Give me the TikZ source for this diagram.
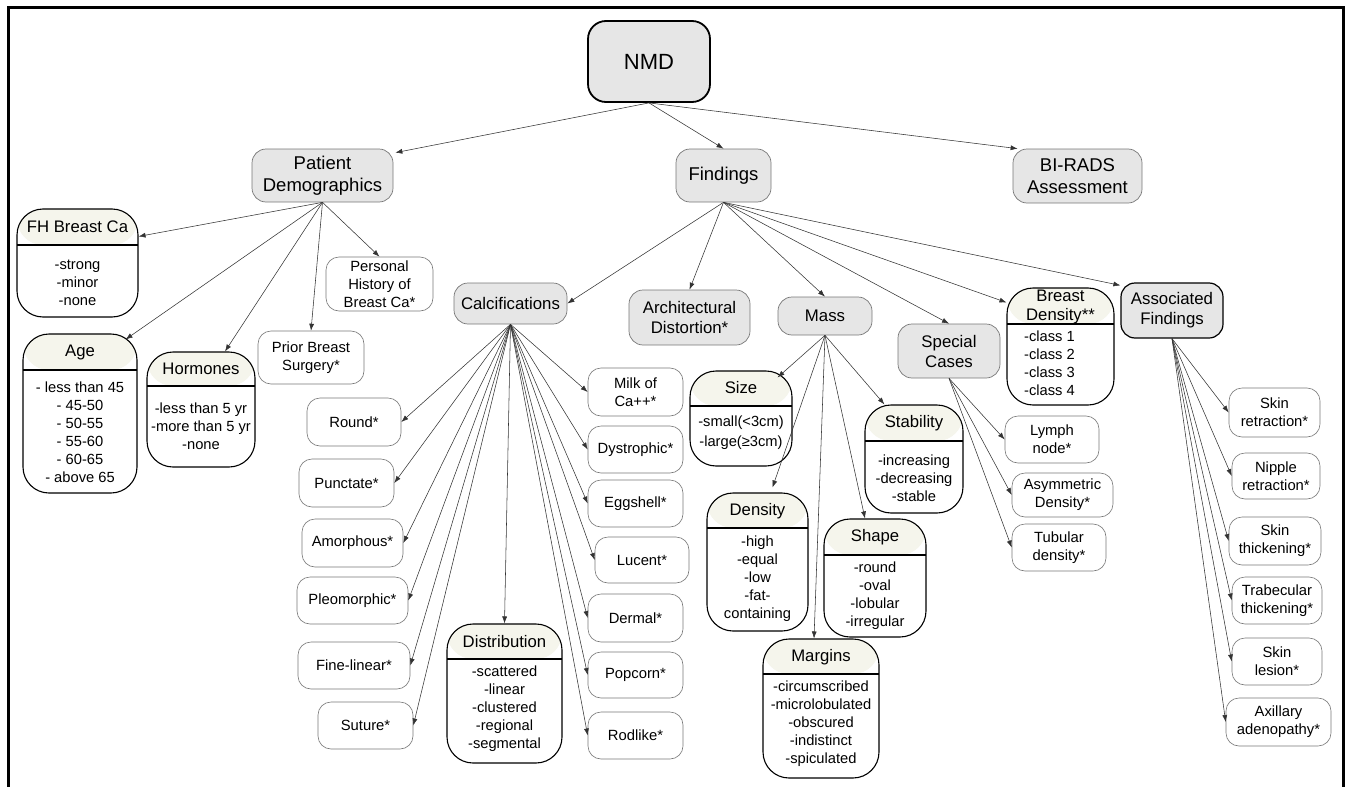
\documentclass[tikz,border=0pt]{standalone}
\usepackage{fontspec}
\setmainfont{Liberation Sans}
\usetikzlibrary{arrows.meta,calc}
\definecolor{nodegray}{HTML}{E6E6E6}
\definecolor{hdrfill}{HTML}{F5F5EC}
\definecolor{edgegray}{HTML}{777777}
\definecolor{linegray}{HTML}{333333}
\newcommand{\fsz}[2]{\fontsize{#1}{#2}\selectfont}
\tikzset{
 basebox/.style={rectangle, inner sep=0pt, align=center},
 topnode/.style={basebox, draw=black, line width=1.8pt, fill=nodegray, rounded corners=18pt, font=\fsz{22}{26}},
 bignode/.style={basebox, draw=edgegray, line width=0.7pt, fill=nodegray, rounded corners=14pt, font=\fsz{18.5}{21.5}},
 catnode/.style={basebox, draw=edgegray, line width=0.7pt, fill=nodegray, rounded corners=14pt, font=\fsz{16.8}{20}},
 leaf/.style={basebox, draw=edgegray, line width=0.6pt, fill=white, rounded corners=13pt, font=\fsz{14.8}{18}},
 hbox/.style={basebox, draw=black, line width=1.1pt, fill=white, rounded corners=26pt, path picture={
   \fill[hdrfill] (path picture bounding box.north west) rectangle ($(path picture bounding box.north east)+(0,#1)$);
   \draw[line width=1.1pt] ($(path picture bounding box.north west)+(0,#1)$) -- ($(path picture bounding box.north east)+(0,#1)$);}},
 htitle/.style={inner sep=0pt, align=center, font=\fsz{16.7}{19}},
 hitems/.style={inner sep=0pt, align=center, font=\fsz{14.7}{18}},
 conn/.style={draw=linegray, line width=0.55pt, -{Latex[length=7pt,width=5pt]}},
}
\begin{document}
\begin{tikzpicture}[x=1pt,y=-1pt]
\useasboundingbox (0,0) rectangle (1350,787);
\draw[line width=3pt] (8,787) -- (8,7) -- (1343.5,7) -- (1343.5,787);

% top level
\node[topnode, minimum width=122pt, minimum height=81pt] (nmd) at (649,61.5) {NMD};
\node[bignode, minimum width=141pt, minimum height=53pt] (pd) at (322.5,175.5) {Patient\\Demographics};
\node[bignode, minimum width=95pt, minimum height=53pt] (fnd) at (723.5,175.5) {Findings};
\node[bignode, minimum width=129pt, minimum height=54pt] (bir) at (1077.5,176) {BI-RADS\\Assessment};

% demographics children
\node[hbox=36, minimum width=121pt, minimum height=108pt] (fh) at (77.5,263) {};
\node[htitle] (fh-t) at (77.5,227) {FH Breast Ca};
\node[hitems] (fh-b) at (77.5,283) {-strong\\-minor\\-none};

\node[hbox=36, minimum width=114pt, minimum height=159pt] (age) at (80,413.5) {};
\node[htitle] (age-t) at (80,352) {Age};
\node[hitems] (age-b) at (80,432) {- less than 45\\- 45-50\\- 50-55\\- 55-60\\- 60-65\\- above 65};

\node[hbox=34, minimum width=108pt, minimum height=115pt] (hor) at (201,409.5) {};
\node[htitle] (hor-t) at (201,369) {Hormones};
\node[hitems] (hor-b) at (201,426) {-less than 5 yr\\-more than 5 yr\\-none};

\node[leaf, minimum width=106pt, minimum height=53pt] (pbs) at (311,357.5) {Prior Breast\\Surgery*};
\node[leaf, minimum width=107pt, minimum height=54pt] (phb) at (379.5,284) {Personal\\History of\\Breast Ca*};

% findings children
\node[catnode, minimum width=113pt, minimum height=41pt] (calc) at (510.5,303.5) {Calcifications};
\node[catnode, minimum width=121pt, minimum height=55pt] (arch) at (689.5,317.5) {Architectural\\Distortion*};
\node[catnode, minimum width=94pt, minimum height=38pt] (mass) at (825,316) {Mass};
\node[catnode, minimum width=102pt, minimum height=54pt] (spc) at (949,351) {Special\\Cases};
\node[catnode, draw=black, line width=1.2pt, minimum width=102pt, minimum height=55pt] (af) at (1172,310.5) {Associated\\Findings};

\node[hbox=36, minimum width=107pt, minimum height=117pt] (bd) at (1060.5,346.5) {};
\node[htitle] (bd-t) at (1060.5,306.5) {Breast\\Density**};
\node[hitems, align=left, anchor=west] (bd-b) at (1024,363.5) {-class 1\\-class 2\\-class 3\\-class 4};

% calcification children
\node[leaf, minimum width=94pt, minimum height=48pt] (round) at (354,422) {Round*};
\node[leaf, minimum width=95pt, minimum height=48pt] (punc) at (346.5,483) {Punctate*};
\node[leaf, minimum width=101pt, minimum height=48pt] (amor) at (352.5,543) {Amorphous*};
\node[leaf, minimum width=111pt, minimum height=47pt] (pleo) at (352.5,600.5) {Pleomorphic*};
\node[leaf, minimum width=112pt, minimum height=47pt] (fine) at (354,665.5) {Fine-linear*};
\node[leaf, minimum width=95pt, minimum height=47pt] (sut) at (365.5,725.5) {Suture*};

\node[hbox=35, minimum width=115pt, minimum height=139pt] (dist) at (504.5,693.5) {};
\node[htitle] (dist-t) at (504.5,642) {Distribution};
\node[hitems] (dist-b) at (504.5,708.5) {-scattered\\-linear\\-clustered\\-regional\\-segmental};

\node[leaf, minimum width=95pt, minimum height=48pt] (milk) at (635.5,392) {Milk of\\Ca++*};
\node[leaf, minimum width=95pt, minimum height=47pt] (dys) at (635.5,449.5) {Dystrophic*};
\node[leaf, minimum width=95pt, minimum height=47pt] (egg) at (635.5,503.5) {Eggshell*};
\node[leaf, minimum width=94pt, minimum height=46pt] (luc) at (642,560) {Lucent*};
\node[leaf, minimum width=95pt, minimum height=48pt] (der) at (635.5,618) {Dermal*};
\node[leaf, minimum width=95pt, minimum height=46pt] (pop) at (635.5,675) {Popcorn*};
\node[leaf, minimum width=95pt, minimum height=47pt] (rod) at (635.5,735.5) {Rodlike*};

% mass children
\node[hbox=35, minimum width=102pt, minimum height=95pt] (size) at (741,418.5) {};
\node[htitle] (size-t) at (741,388) {Size};
\node[hitems, font=\fsz{14.7}{20}] (size-b) at (741,433) {-small(<3cm)\\-large(≥3cm)};

\node[hbox=36, minimum width=98pt, minimum height=108pt] (stab) at (914,459) {};
\node[htitle] (stab-t) at (914,423) {Stability};
\node[hitems] (stab-b) at (914,478) {-increasing\\-decreasing\\-stable};

\node[hbox=35, minimum width=101pt, minimum height=138pt] (den) at (757.5,562) {};
\node[htitle] (den-t) at (757.5,511) {Density};
\node[hitems] (den-b) at (757.5,579) {-high\\-equal\\-low\\-fat-\\containing};

\node[hbox=36, minimum width=102pt, minimum height=118pt] (shp) at (875,578) {};
\node[htitle] (shp-t) at (875,537) {Shape};
\node[hitems] (shp-b) at (875,596) {-round\\-oval\\-lobular\\-irregular};

\node[hbox=35, minimum width=116pt, minimum height=139pt] (mar) at (821,708.5) {};
\node[htitle] (mar-t) at (821,657) {Margins};
\node[hitems] (mar-b) at (821,724) {-circumscribed\\-microlobulated\\-obscured\\-indistinct\\-spiculated};

% special cases children
\node[leaf, minimum width=94pt, minimum height=47pt] (lym) at (1052,439.5) {Lymph\\node*};
\node[leaf, minimum width=101pt, minimum height=44pt] (asy) at (1062.5,495) {Asymmetric\\Density*};
\node[leaf, minimum width=94pt, minimum height=47pt] (tub) at (1059,547.5) {Tubular\\density*};

% associated findings children
\node[leaf, minimum width=91pt, minimum height=49pt] (skr) at (1274.5,412.5) {Skin\\retraction*};
\node[leaf, minimum width=88pt, minimum height=46pt] (nip) at (1276,476) {Nipple\\retraction*};
\node[leaf, minimum width=92pt, minimum height=48pt] (skt) at (1275,541) {Skin\\thickening*};
\node[leaf, minimum width=90pt, minimum height=47pt] (trb) at (1277,600.5) {Trabecular\\thickening*};
\node[leaf, minimum width=90pt, minimum height=47pt] (skl) at (1277,661.5) {Skin\\lesion*};
\node[leaf, minimum width=105pt, minimum height=48pt] (axl) at (1278.5,722) {Axillary\\adenopathy*};

% connectors
\draw[conn] (nmd.south) -- ($(pd.north east)+(2,4)$);
\draw[conn] (nmd.south) -- (fnd.north);
\draw[conn] (nmd.south) -- ($(bir.north west)+(5,0)$);

\draw[conn] (pd.south) -- ($(fh.north east)+(0,28)$);
\draw[conn] (pd.south) -- ($(age.north east)+(-12,6)$);
\draw[conn] (pd.south) -- ($(hor.north)+(24,0)$);
\draw[conn] (pd.south) -- (pbs.north);
\draw[conn] (pd.south) -- (phb.north);

\draw[conn] (fnd.south) -- (calc.east);
\draw[conn] (fnd.south) -- (arch.north);
\draw[conn] (fnd.south) -- (mass.north);
\draw[conn] (fnd.south) -- (spc.north);
\draw[conn] (fnd.south) -- ($(bd.north west)+(0,15)$);
\draw[conn] (fnd.south) -- ($(af.north west)+(0,3)$);

\foreach \t in {round,punc,amor,pleo,fine,sut}
  \draw[conn] (calc.south) -- (\t.east);
\draw[conn] (calc.south) -- (dist.north);
\foreach \t in {milk,dys,egg,luc,der,pop,rod}
  \draw[conn] (calc.south) -- (\t.west);

\draw[conn] (mass.south) -- ($(size.north east)+(-15,7)$);
\draw[conn] (mass.south) -- ($(stab.north west)+(20,0)$);
\draw[conn] (mass.south) -- ($(den.north)+(15,-5)$);
\draw[conn] (mass.south) -- ($(shp.north)+(-10,0)$);
\draw[conn] (mass.south) -- ($(mar.north)+(-7,0)$);

\foreach \t in {lym,asy,tub}
  \draw[conn] (spc.south) -- (\t.west);
\foreach \t in {skr,nip,skt,trb,skl,axl}
  \draw[conn] (af.south) -- (\t.west);
\end{tikzpicture}
\end{document}
